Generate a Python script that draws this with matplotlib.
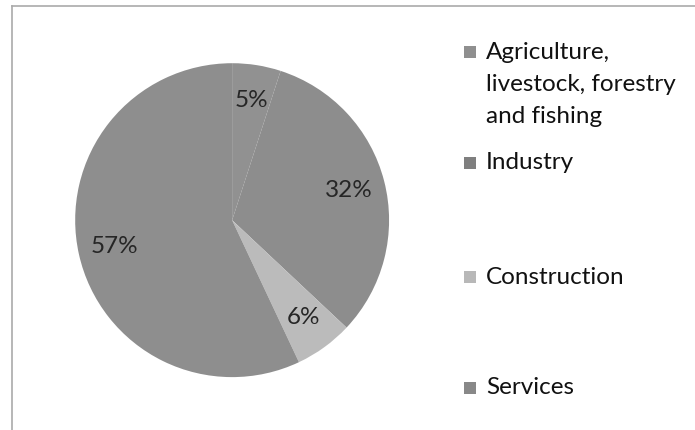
import matplotlib
matplotlib.use("Agg")
import matplotlib.pyplot as plt
from matplotlib.lines import Line2D
from matplotlib.patches import Rectangle

# sectors in drawing order (clockwise from 12 o'clock)
sectors = ["Agriculture,\nlivestock, forestry\nand fishing", "Industry", "Construction", "Services"]
shares = [5, 32, 6, 57]
colors = ["#919191", "#8d8d8d", "#bbbbbb", "#8e8e8e"]
legend_colors = ["#8f8f8f", "#7f7f7f", "#b8b8b8", "#888888"]

plt.rcParams['font.family'] = ['Lato', 'DejaVu Sans']

fig = plt.figure(figsize=(6.95, 4.3), dpi=100)
ax = fig.add_axes([0.108, 0.123, 0.452, 0.730])

wedges, texts, autotexts = ax.pie(
    shares, colors=colors, startangle=90, counterclock=False,
    autopct=lambda p: f"{p:.0f}%", pctdistance=0.77,
    wedgeprops=dict(linewidth=0), textprops=dict(fontsize=17.5, color="#262626"))
ax.set_xlim(-1, 1)
ax.set_ylim(-1, 1)
ax.set_aspect("equal")
ax.axis("off")

# chart border (only top and left edges visible in the crop)
fig.add_artist(Line2D([12 / 695, 1], [1 - 6 / 430, 1 - 6 / 430], color="#aaaaaa", lw=1.2))
fig.add_artist(Line2D([12 / 695, 12 / 695], [0, 1 - 6 / 430], color="#aaaaaa", lw=1.2))

# legend, entries spread like the original (y of the first line of each entry)
entry_y = [52, 163, 277, 388]
for label, col, y in zip(sectors, legend_colors, entry_y):
    fig.add_artist(Rectangle((464 / 695, 1 - (y + 6) / 430), 12 / 695, 12 / 430,
                             transform=fig.transFigure, color=col, lw=0))
    nlines = label.count("\n")
    yc = y + nlines * 32.5 / 2
    fig.text(486 / 695, 1 - yc / 430, label, fontsize=17.5, color="#111111",
             va="center", linespacing=1.66)

fig.savefig("out.png", dpi=100, facecolor="white")
